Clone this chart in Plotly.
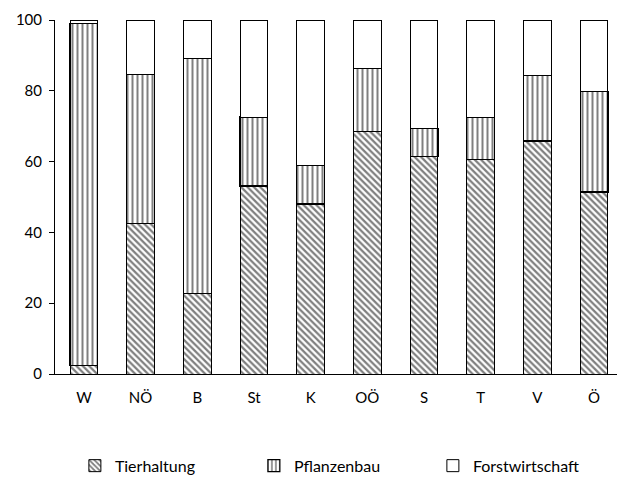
import plotly.graph_objects as go

categories = ["W", "NÖ", "B", "St", "K", "OÖ", "S", "T", "V", "Ö"]
tierhaltung = [2.3, 42.6, 22.8, 53.1, 48.0, 68.6, 61.4, 60.7, 65.8, 51.4]
pflanzenbau = [96.6, 41.9, 66.3, 19.5, 10.8, 17.7, 8.0, 11.7, 18.6, 28.3]
forstwirtschaft = [1.1, 15.5, 10.9, 27.4, 41.2, 13.7, 30.6, 27.6, 15.6, 20.3]
y_ticks = [0, 20, 40, 60, 80, 100]

FONT = "Lato, DejaVu Sans, sans-serif"

fig = go.Figure()
fig.add_trace(go.Bar(
    x=categories, y=tierhaltung, name="Tierhaltung", width=0.49,
    marker=dict(color="white", line=dict(color="black", width=1),
                pattern=dict(shape="\\", fgcolor="black", bgcolor="white", size=4.5, solidity=0.5)),
))
fig.add_trace(go.Bar(
    x=categories, y=pflanzenbau, name="Pflanzenbau", width=0.49,
    marker=dict(color="white", line=dict(color="black", width=1.2),
                pattern=dict(shape="|", fgcolor="black", bgcolor="white", size=5, solidity=0.4)),
))
fig.add_trace(go.Bar(
    x=categories, y=forstwirtschaft, name="Forstwirtschaft", width=0.49,
    marker=dict(color="white", line=dict(color="black", width=1)),
))

fig.update_layout(
    barmode="stack",
    width=617, height=469,
    margin=dict(l=47, r=2, t=12, b=103),
    paper_bgcolor="white", plot_bgcolor="white",
    font=dict(family=FONT, size=15, color="black"),
    showlegend=True,
    legend=dict(orientation="h", x=0.035, xanchor="left",
                yref="container", y=0.024, yanchor="middle",
                font=dict(family=FONT, size=16, color="black"),
                entrywidth=134, entrywidthmode="pixels", traceorder="normal"),
    xaxis=dict(range=[-0.51, 9.51], showline=True, linecolor="black", linewidth=1,
               ticks="", showgrid=False, ticklabelstandoff=10,
               tickfont=dict(family=FONT, size=15)),
    yaxis=dict(range=[0, 100], tickvals=y_ticks, showline=True, linecolor="black", linewidth=1,
               ticks="outside", ticklen=5, tickcolor="black", showgrid=False, zeroline=False,
               ticklabelstandoff=4, tickfont=dict(family=FONT, size=15)),
)

fig.write_html("out.html")
